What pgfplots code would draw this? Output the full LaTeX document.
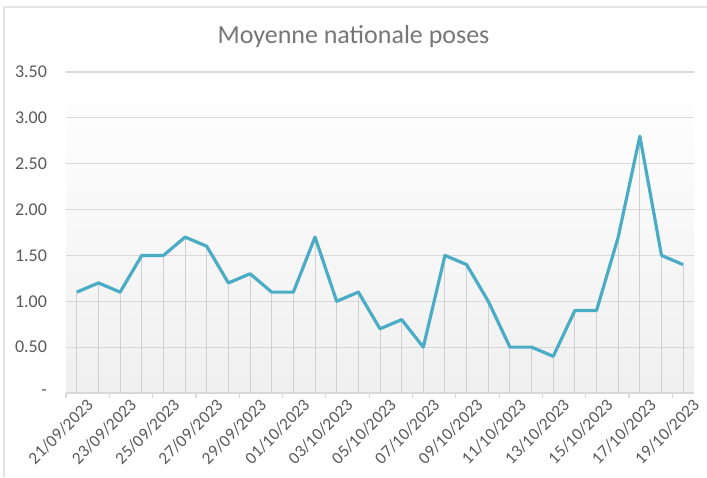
\documentclass[border=0pt]{standalone}
\usepackage{fontspec}
\setmainfont{Carlito}
\usepackage{pgfplots}
\pgfplotsset{compat=1.18}
\definecolor{linec}{HTML}{4BACC6}
\definecolor{txt}{HTML}{595959}
\definecolor{titlec}{HTML}{767676}
\definecolor{gridc}{HTML}{D9D9D9}
\definecolor{dropc}{HTML}{D0D0D0}
\begin{document}
\begin{tikzpicture}
\path[use as bounding box] (-33pt,-42pt) rectangle (320.5pt,196.5pt);
\draw[gray!22, line width=0.8pt] (-31pt,-42pt) -- (-31pt,193pt) -- (320.5pt,193pt);
\begin{axis}[
  at={(0pt,0pt)}, anchor=south west,
  scale only axis, width=314pt, height=160.5pt,
  xmin=-0.5, xmax=28.5, ymin=0, ymax=3.5,
  axis x line*=bottom, axis y line*=left,
  axis line style={-},
  x axis line style={draw=gridc, line width=0.6pt},
  y axis line style={draw=none},
  axis background/.style={shade, top color=white, bottom color=black!6},
  ytick={0,0.5,1,1.5,2,2.5,3,3.5},
  yticklabels={-\hspace{4pt},0.50,1.00,1.50,2.00,2.50,3.00,3.50},
  ymajorgrids, major grid style={draw=gridc, line width=0.6pt},
  ytick style={draw=none},
  yticklabel style={anchor=east, xshift=-6pt, font=\fontsize{9}{10}\selectfont, text=txt},
  xtick={0,2,...,28},
  xticklabels={21/09/2023,23/09/2023,25/09/2023,27/09/2023,29/09/2023,01/10/2023,03/10/2023,05/10/2023,07/10/2023,09/10/2023,11/10/2023,13/10/2023,15/10/2023,17/10/2023,19/10/2023},
  xtick style={draw=none},
  xticklabel style={rotate=45, anchor=east, xshift=1.5pt, yshift=-8pt, inner sep=0pt, font=\fontsize{8.6}{10}\selectfont, text=txt},
  extra x ticks={-0.5,1.5,...,27.5},
  extra x tick labels={},
  extra x tick style={xtick style={draw=gridc, line width=0.6pt}, major tick length=2.5pt, tick align=outside, xmajorgrids=false},
  /pgf/number format/assume math mode=true,
  clip=false,
]
\addplot[ycomb, draw=dropc, line width=0.5pt, no marks] coordinates {
(0,1.1)(1,1.2)(2,1.1)(3,1.5)(4,1.5)(5,1.7)(6,1.6)(7,1.2)(8,1.3)(9,1.1)
(10,1.1)(11,1.7)(12,1.0)(13,1.1)(14,0.7)(15,0.8)(16,0.5)(17,1.5)(18,1.4)(19,1.0)
(20,0.5)(21,0.5)(22,0.4)(23,0.9)(24,0.9)(25,1.7)(26,2.8)(27,1.5)(28,1.4)};
\addplot[draw=linec, line width=1.6pt, line join=round, no marks] coordinates {
(0,1.1)(1,1.2)(2,1.1)(3,1.5)(4,1.5)(5,1.7)(6,1.6)(7,1.2)(8,1.3)(9,1.1)
(10,1.1)(11,1.7)(12,1.0)(13,1.1)(14,0.7)(15,0.8)(16,0.5)(17,1.5)(18,1.4)(19,1.0)
(20,0.5)(21,0.5)(22,0.4)(23,0.9)(24,0.9)(25,1.7)(26,2.8)(27,1.5)(28,1.4)};
\end{axis}
\node[text=titlec, font=\fontsize{13}{15}\selectfont] at (143.75pt,178pt) {Moyenne nationale poses};
\end{tikzpicture}
\end{document}
